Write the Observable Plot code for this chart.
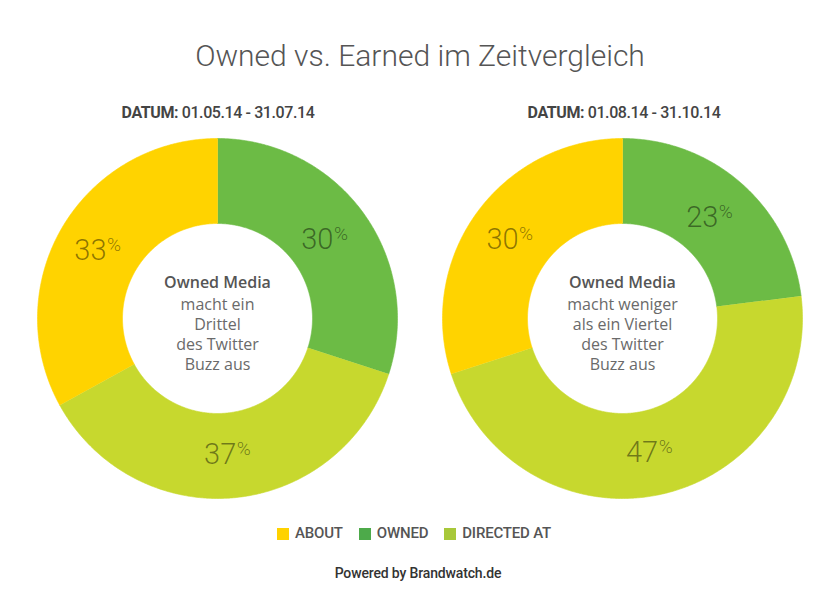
<!DOCTYPE html>
<html><head><meta charset="utf-8">
<script src="https://cdn.jsdelivr.net/npm/d3@7"></script>
<script src="https://cdn.jsdelivr.net/npm/@observablehq/plot@0.6"></script>
<style>
body{margin:0;background:#fff;font-family:Roboto,"Noto Sans",sans-serif;}
#wrap{position:relative;width:840px;height:591px;overflow:hidden;background:#fff;}
.t{position:absolute;white-space:nowrap;}
#chart{position:absolute;left:0;top:128px;}
.sub{font-size:16px;line-height:16px;color:#444;letter-spacing:-0.4px;text-align:center;width:300px;}
.leg{display:flex;align-items:center;font-size:15px;line-height:15px;font-weight:500;color:#555;letter-spacing:-0.2px;}
.sw{display:inline-block;width:12px;height:12px;margin-right:6px;}
</style></head><body><div id="wrap">
<div class="t" id="title" style="left:0;width:840px;top:41px;text-align:center;font-size:30px;line-height:30px;font-weight:300;color:#555;">Owned vs. Earned im Zeitvergleich</div>
<div class="t sub" id="sub0" style="left:68px;top:105px;"></div>
<div class="t sub" id="sub1" style="left:474px;top:105px;"></div>
<div id="chart"></div>
<div class="t" id="legend" style="left:-6px;width:840px;top:526px;display:flex;justify-content:center;gap:16px;"></div>
<div class="t" id="footer" style="left:-2px;width:840px;top:566px;text-align:center;font-size:14px;line-height:14px;font-weight:500;color:#333;letter-spacing:-0.15px;">Powered by Brandwatch.de</div>
</div>
<script>
// ---- data ----
const categories = ["OWNED", "DIRECTED AT", "ABOUT"];
const legendOrder = ["ABOUT", "OWNED", "DIRECTED AT"];
const periods = ["01.05.14 - 31.07.14", "01.08.14 - 31.10.14"];
const ownedValues = [30, 23];
const directedValues = [37, 47];
const aboutValues = [33, 30];
const centerHeads = ["Owned Media", "Owned Media"];
const centerTexts = ["macht ein\nDrittel\ndes Twitter\nBuzz aus", "macht weniger\nals ein Viertel\ndes Twitter\nBuzz aus"];
const sliceColors = ["#6CBB45", "#C7D82E", "#FFD300"];
const legendColors = {"ABOUT": "#FFD200", "OWNED": "#4DAA4A", "DIRECTED AT": "#A8C83A"};

// ---- layout ----
const R = 1, r0 = 95 / 180, labelR = 0.755;
const gapX = 405 / 180;

document.getElementById("sub0").innerHTML = `<b>DATUM:</b> <span style="font-weight:500">${periods[0]}</span>`;
document.getElementById("sub1").innerHTML = `<b>DATUM:</b> <span style="font-weight:500">${periods[1]}</span>`;

const polys = [], labels = [], centers = [];
periods.forEach((p, i) => {
  const cx = i * gapX;
  const vals = [ownedValues[i], directedValues[i], aboutValues[i]];
  const arcs = d3.pie().sort(null).value(d => d.v)(categories.map((c, k) => ({c, v: vals[k]})));
  arcs.forEach(a => {
    const key = `${i}-${a.data.c}`;
    const n = Math.max(2, Math.ceil((a.endAngle - a.startAngle) / (Math.PI / 360)));
    const pts = [];
    for (let j = 0; j <= n; j++) {
      const t = a.startAngle + (a.endAngle - a.startAngle) * j / n;
      pts.push({x: cx + R * Math.sin(t), y: R * Math.cos(t)});
    }
    for (let j = n; j >= 0; j--) {
      const t = a.startAngle + (a.endAngle - a.startAngle) * j / n;
      pts.push({x: cx + r0 * Math.sin(t), y: r0 * Math.cos(t)});
    }
    pts.forEach(q => polys.push({...q, key, cat: a.data.c}));
    const mid = (a.startAngle + a.endAngle) / 2;
    labels.push({x: cx + labelR * Math.sin(mid), y: labelR * Math.cos(mid), v: a.data.v, cat: a.data.c});
  });
  centers.push({x: cx, y: 0, head: centerHeads[i], body: centerTexts[i]});
});

const W = 840, H = 380, px = 180;
const chart = Plot.plot({
  width: W, height: H, margin: 0,
  style: {background: "transparent", fontFamily: "Roboto, sans-serif"},
  x: {domain: [-217 / px, (W - 217) / px], axis: null},
  y: {domain: [-(H / 2) / px, (H / 2) / px], axis: null},
  color: {domain: categories, range: sliceColors},
  marks: [
    Plot.line(polys, {x: "x", y: "y", z: "key", fill: "cat", stroke: "cat", strokeWidth: 0.6, curve: "linear"}),
    Plot.text(labels, {x: "x", y: "y", text: d => String(d.v), textAnchor: "end", lineAnchor: "bottom", dx: 6, dy: 10.5, fontSize: 29, fontWeight: 300, fill: "#000", fillOpacity: 0.45}),
    Plot.text(labels, {x: "x", y: "y", text: d => "%", textAnchor: "start", lineAnchor: "bottom", dx: 6.5, dy: 1.5, fontSize: 19, fontWeight: 300, fill: "#000", fillOpacity: 0.45}),
    Plot.text(centers, {x: "x", y: "y", text: "head", lineAnchor: "bottom", dy: -31, fontSize: 16, fontWeight: 600, fill: "#555", fontFamily: "'Open Sans', sans-serif"}),
    Plot.text(centers, {x: "x", y: "y", text: "body", lineAnchor: "top", dy: -23, fontSize: 16, lineHeight: 1.25, fontWeight: 400, fill: "#6a6a6a", fontFamily: "'Open Sans', sans-serif"})
  ]
});
document.getElementById("chart").appendChild(chart);

const leg = document.getElementById("legend");
legendOrder.forEach(c => {
  const d = document.createElement("div");
  d.className = "leg";
  d.innerHTML = `<span class="sw" style="background:${legendColors[c]}"></span>${c}`;
  leg.appendChild(d);
});
</script>
</body></html>
